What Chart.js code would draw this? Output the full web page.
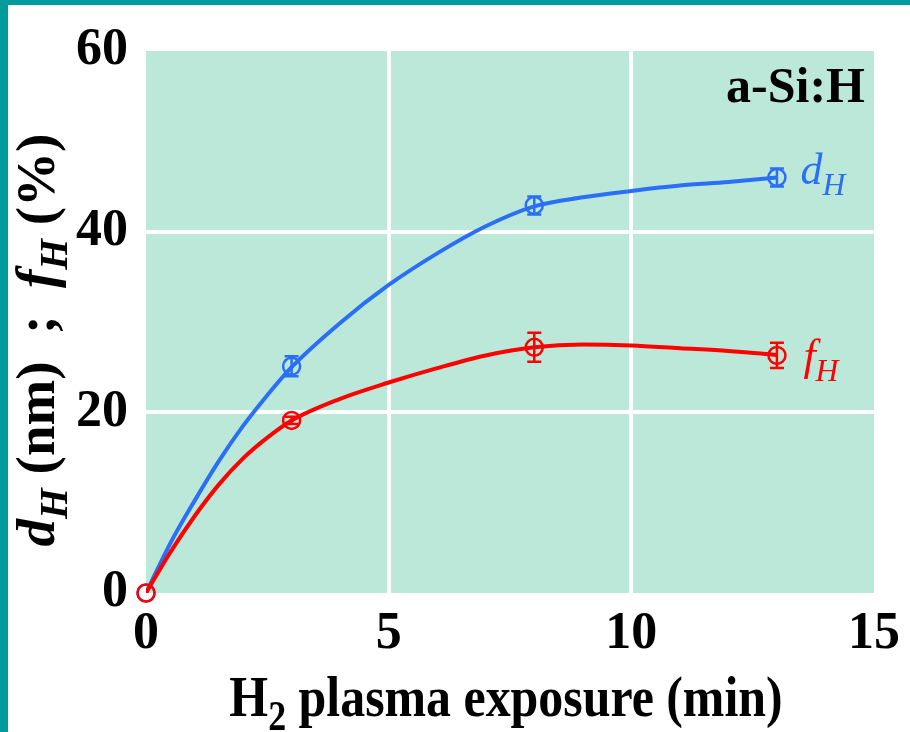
<!DOCTYPE html>
<html>
<head>
<meta charset="utf-8">
<script src="https://cdn.jsdelivr.net/npm/chart.js@4/dist/chart.umd.min.js"></script>
<style>
    body { margin: 0; background: #fff; }
    #wrap { position: relative; width: 910px; height: 732px; }
    .frame { position: absolute; background: #009b9b; }
</style>
</head>
<body>
<div id="wrap">
    <canvas id="plasmaChart" width="910" height="732"></canvas>
    <div class="frame" style="left:0;top:0;width:910px;height:5px"></div>
    <div class="frame" style="left:0;top:0;width:8px;height:732px"></div>
</div>
<script>
// 测量点 (min)
const pointTimes = [0, 3, 8, 13];
const dHPoints = [0, 25.1, 42.9, 46.0];
const dHErrors = [0, 1.1, 1.0, 1.0];
const fHPoints = [0, 19.1, 27.2, 26.3];
const fHErrors = [0, 0.4, 1.6, 1.4];

// 拟合曲线
const curveTimes = [0, 0.5, 1, 1.5, 2, 2.5, 3, 4, 5, 6, 7, 8, 9, 10, 11, 12, 13];
const dHCurve = [0, 5.5, 10.2, 14.6, 18.5, 21.9, 25.0, 29.9, 34.1, 37.6, 40.6, 42.8, 43.8, 44.5, 45.1, 45.5, 46.0];
const fHCurve = [0, 4.5, 8.5, 12.0, 14.9, 17.2, 19.1, 21.5, 23.3, 24.9, 26.3, 27.2, 27.5, 27.4, 27.1, 26.8, 26.35];

// 刻度
const xTicks = [0, 5, 10, 15];
const yTicks = [0, 20, 40, 60];

const BLUE = '#2a6ff5';
const RED = '#ff0000';
const SERIF = '"Liberation Serif", "Times New Roman", serif';

function toXY(xs, ys) {
    return xs.map((x, i) => ({ x: x, y: ys[i] }));
}

// 富文本: 斜体 / 下标
function drawRich(ctx, parts, x, y, size, color, condense) {
    const fontOf = p => `${p.italic ? 'italic ' : ''}${p.bold === false ? '' : 'bold '}${p.sub ? size * 0.72 : size}px ${SERIF}`;
    let total = 0;
    parts.forEach(p => {
        ctx.font = fontOf(p);
        p.w = ctx.measureText(p.t).width;
        total += p.w;
    });
    ctx.save();
    ctx.translate(x, y);
    ctx.scale(condense, 1);
    let cx = -total / 2;
    ctx.fillStyle = color;
    ctx.textBaseline = 'alphabetic';
    ctx.textAlign = 'left';
    parts.forEach(p => {
        ctx.font = fontOf(p);
        ctx.fillText(p.t, cx, p.sub ? size * 0.24 : 0);
        cx += p.w;
    });
    ctx.restore();
}

const backgroundPlugin = {
    id: 'plotBackground',
    beforeDraw(chart) {
        const { ctx, chartArea } = chart;
        ctx.save();
        ctx.fillStyle = '#fff';
        ctx.fillRect(0, 0, chart.width, chart.height);
        ctx.fillStyle = '#bce8da';
        ctx.fillRect(chartArea.left, chartArea.top, chartArea.right - chartArea.left, chartArea.bottom - chartArea.top);
        ctx.restore();
    }
};

// 误差棒
const errorBarPlugin = {
    id: 'errorBars',
    afterDatasetsDraw(chart) {
        const { ctx } = chart;
        const xs = chart.scales.x, ys = chart.scales.y;
        chart.data.datasets.forEach(ds => {
            if (!ds.errors) return;
            ctx.save();
            ctx.strokeStyle = ds.borderColor;
            ctx.lineWidth = 2.5;
            ds.data.forEach((p, i) => {
                const e = ds.errors[i];
                if (!e) return;
                const px = xs.getPixelForValue(p.x);
                const top = ys.getPixelForValue(p.y + e);
                const bot = ys.getPixelForValue(p.y - e);
                ctx.beginPath();
                ctx.moveTo(px, top); ctx.lineTo(px, bot);
                ctx.moveTo(px - 7, top); ctx.lineTo(px + 7, top);
                ctx.moveTo(px - 7, bot); ctx.lineTo(px + 7, bot);
                ctx.stroke();
            });
            ctx.restore();
        });
    }
};

// 标题与标注
const labelPlugin = {
    id: 'labels',
    afterDraw(chart) {
        const { ctx, chartArea } = chart;
        const xs = chart.scales.x, ys = chart.scales.y;

        drawRich(ctx, [{ t: 'H' }, { t: '2', sub: true }, { t: ' plasma exposure (min)' }],
            506, 716, 58, '#000', 0.86);

        ctx.save();
        ctx.translate(54, 340);
        ctx.rotate(-Math.PI / 2);
        drawRich(ctx, [
            { t: 'd', italic: true }, { t: 'H', italic: true, sub: true },
            { t: ' (nm)  ;  ' },
            { t: 'f', italic: true }, { t: 'H', italic: true, sub: true },
            { t: ' (%)' }
        ], 0, 0, 55, '#000', 1);
        ctx.restore();

        ctx.save();
        ctx.font = `bold 50px ${SERIF}`;
        ctx.fillStyle = '#000';
        ctx.textAlign = 'right';
        ctx.fillText('a-Si:H', chartArea.right - 9, 102);
        ctx.restore();

        const lx = xs.getPixelForValue(pointTimes[3]);
        drawRich(ctx, [{ t: 'd', italic: true, bold: false }, { t: 'H', italic: true, bold: false, sub: true }],
            lx + 46, ys.getPixelForValue(dHPoints[3]) + 7, 44, BLUE, 1);
        drawRich(ctx, [{ t: 'f', italic: true, bold: false }, { t: 'H', italic: true, bold: false, sub: true }],
            lx + 44, ys.getPixelForValue(fHPoints[3]) + 15, 44, RED, 1);
    }
};

const gridColor = c => (c.tick && (c.tick.value === 0 || c.tick.value === c.scale.max)) ? 'rgba(0,0,0,0)' : '#fff';

const ctx = document.getElementById('plasmaChart').getContext('2d');
new Chart(ctx, {
    type: 'scatter',
    data: {
        datasets: [{
            type: 'line',
            data: toXY(curveTimes, dHCurve),
            borderColor: BLUE,
            borderWidth: 4,
            pointRadius: 0,
            cubicInterpolationMode: 'monotone',
            fill: false,
            order: 4
        }, {
            type: 'line',
            data: toXY(curveTimes, fHCurve),
            borderColor: RED,
            borderWidth: 4,
            pointRadius: 0,
            cubicInterpolationMode: 'monotone',
            fill: false,
            order: 3
        }, {
            data: toXY(pointTimes, dHPoints),
            errors: dHErrors,
            borderColor: BLUE,
            backgroundColor: 'rgba(0,0,0,0)',
            pointRadius: 8.5,
            pointBorderWidth: 2.5,
            clip: false,
            order: 2
        }, {
            data: toXY(pointTimes, fHPoints),
            errors: fHErrors,
            borderColor: RED,
            backgroundColor: 'rgba(0,0,0,0)',
            pointRadius: 8.5,
            pointBorderWidth: 2.5,
            clip: false,
            order: 1
        }]
    },
    options: {
        responsive: false,
        animation: false,
        layout: { padding: { top: 51, right: 35, left: 0, bottom: 0 } },
        plugins: { legend: { display: false }, tooltip: { enabled: false } },
        scales: {
            x: {
                type: 'linear',
                min: 0, max: 15,
                afterBuildTicks: s => { s.ticks = xTicks.map(v => ({ value: v })); },
                afterFit: s => { s.height = 139; },
                ticks: { color: '#000', padding: 10, font: { family: SERIF, size: 52, weight: 'bold' } },
                grid: { color: gridColor, lineWidth: 4, drawTicks: false },
                border: { display: false }
            },
            y: {
                min: 0, max: 60,
                afterBuildTicks: s => { s.ticks = yTicks.map(v => ({ value: v })); },
                afterFit: s => { s.width = 146; },
                ticks: { color: '#000', padding: 18, font: { family: SERIF, size: 52, weight: 'bold' } },
                grid: { color: gridColor, lineWidth: 4, drawTicks: false },
                border: { display: false }
            }
        }
    },
    plugins: [backgroundPlugin, errorBarPlugin, labelPlugin]
});
</script>
</body>
</html>
